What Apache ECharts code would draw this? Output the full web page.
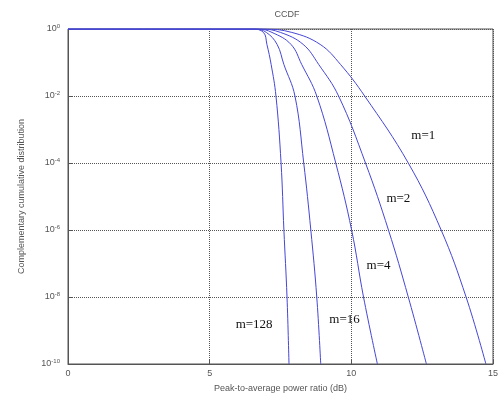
<!DOCTYPE html>
<html>
<head>
<meta charset="utf-8">
<script src="https://cdn.jsdelivr.net/npm/echarts@6/dist/echarts.min.js"></script>
<style>html,body{margin:0;padding:0;background:#fff}#c{width:501px;height:407px}</style>
</head>
<body>
<div id="c"></div>
<script>
// Probability levels shared by all curves
var probLevels = [1, 1, 0.79, 0.347, 0.087, 1e-2, 1e-4, 1e-6, 1e-8, 1e-10];
// PAPR (dB) at each probability level, per curve
var papr_m1   = [0, 6.9, 7.9, 8.9, 9.62, 10.47, 12.01, 13.17, 14.05, 14.75];
var papr_m2   = [0, 6.8, 7.5, 8.3, 8.85, 9.55, 10.50, 11.31, 12.01, 12.65];
var papr_m4   = [0, 6.7, 7.2, 7.87, 8.25, 8.78, 9.45, 10.01, 10.43, 10.92];
var papr_m16  = [0, 6.6, 7.0, 7.38, 7.62, 8.01, 8.32, 8.57, 8.78, 8.92];
var papr_m128 = [0, 6.5, 6.9, 7.02, 7.17, 7.34, 7.52, 7.62, 7.73, 7.80];
var curveNames = ['m=1', 'm=2', 'm=4', 'm=16', 'm=128'];
// label anchor positions in data space [dB, probability]
var labelX = [12.54, 11.66, 10.96, 9.76, 6.57];
var labelY = [6.6e-4, 8.7e-6, 8.7e-8, 2.1e-9, 1.5e-9];
var xTicks = [0, 5, 10, 15];

var curves = [papr_m1, papr_m2, papr_m4, papr_m16, papr_m128];
var series = curves.map(function (c, i) {
  return {
    type: 'line',
    name: curveNames[i],
    data: c.map(function (x, j) { return [x, probLevels[j]]; }),
    showSymbol: false,
    smooth: 0.4,
    lineStyle: { color: '#4646d6', width: 1 },
    itemStyle: { color: '#4646d6' },
    markPoint: {
      symbol: 'circle', symbolSize: 1,
      itemStyle: { color: 'rgba(0,0,0,0)' },
      label: {
        show: true, position: 'inside', formatter: curveNames[i],
        color: '#111', fontFamily: 'Liberation Serif', fontSize: 13
      },
      data: [{ coord: [labelX[i], labelY[i]] }]
    }
  };
});

var chart = echarts.init(document.getElementById('c'));
chart.setOption({
  animation: false,
  title: {
    text: 'CCDF', left: 282, top: 5, textAlign: 'center',
    textStyle: { fontFamily: 'Liberation Sans', fontSize: 9, fontWeight: 'normal', color: '#555' }
  },
  grid: { left: 68, right: 5, top: 29, bottom: 43, show: true, borderColor: '#555', borderWidth: 1 },
  xAxis: {
    type: 'value', min: xTicks[0], max: xTicks[xTicks.length - 1], interval: 5,
    name: 'Peak-to-average power ratio (dB)', nameLocation: 'middle', nameGap: 20,
    nameTextStyle: { fontFamily: 'Liberation Sans', fontSize: 9, color: '#555' },
    axisLine: { lineStyle: { color: '#555' } },
    axisTick: { inside: true, length: 4, lineStyle: { color: '#555' } },
    axisLabel: { fontFamily: 'Liberation Sans', fontSize: 9, color: '#555', margin: 5 },
    splitLine: { show: true, lineStyle: { type: 'dotted', color: '#555', width: 1 } }
  },
  yAxis: {
    type: 'log', logBase: 100, min: 1e-10, max: 1,
    name: 'Complementary cumulative distribution', nameLocation: 'middle', nameGap: 42,
    nameTextStyle: { fontFamily: 'Liberation Sans', fontSize: 9, color: '#555' },
    axisLine: { show: true, lineStyle: { color: '#555' } },
    axisTick: { show: true, inside: true, length: 4, lineStyle: { color: '#555' } },
    axisLabel: {
      margin: 8,
      formatter: function (v) {
        var e = Math.round(Math.log10(v));
        return '10{s|' + e + '}';
      },
      fontFamily: 'Liberation Sans', fontSize: 9, color: '#555',
      rich: { s: { fontFamily: 'Liberation Sans', fontSize: 6, color: '#555', verticalAlign: 'top', padding: [0, 0, 6, 0] } }
    },
    splitLine: { show: true, lineStyle: { type: 'dotted', color: '#555', width: 1 } }
  },
  series: series
});
</script>
</body>
</html>
